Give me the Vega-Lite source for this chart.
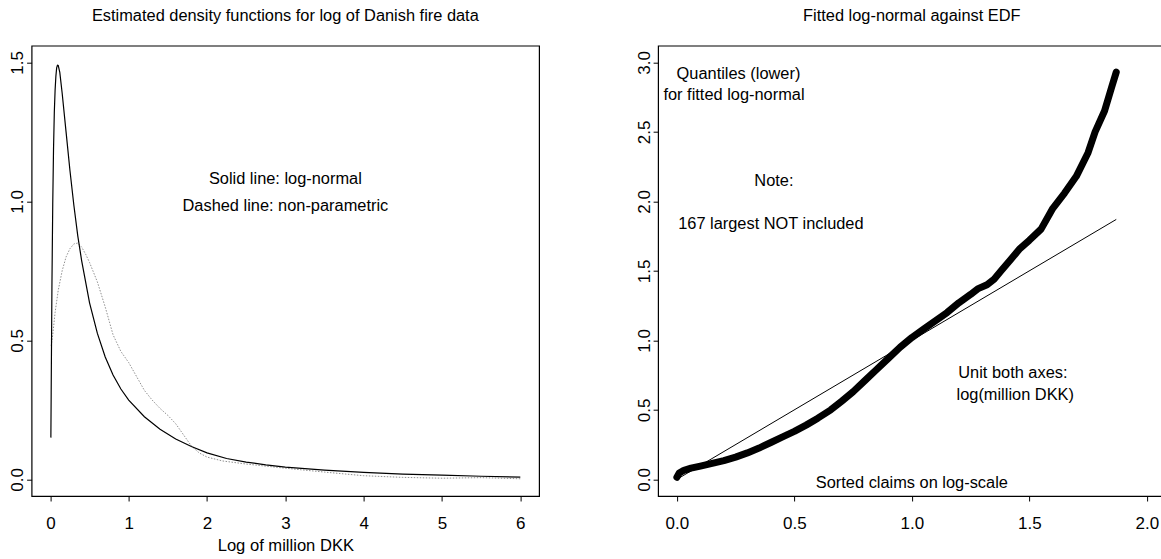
{
  "$schema": "https://vega.github.io/schema/vega-lite/v6.json",
  "autosize": "none",
  "padding": {"left": 31.6, "top": 45.7, "right": 1129.4, "bottom": 513.3},
  "background": "white",
  "bounds": "flush",
  "spacing": 118.5,
  "config": {
    "font": "Liberation Sans",
    "view": {"stroke": "black", "strokeWidth": 1.2},
    "axis": {
      "grid": false, "domain": false, "tickColor": "black", "tickSize": 5, "tickWidth": 1,
      "labelColor": "black", "labelFont": "Liberation Sans", "labelFontSize": 17,
      "titleColor": "black", "titleFont": "Liberation Sans", "titleFontSize": 16.6, "titleFontWeight": "normal"
    },
    "title": {"font": "Liberation Sans", "fontSize": 16.4, "fontWeight": "normal", "color": "black", "anchor": "middle", "frame": "group", "offset": 21}
  },
  "datasets": {
    "solid": [
      {"x": 0.006, "y": 0.15}, {"x": 0.01, "y": 0.31}, {"x": 0.02, "y": 0.71}, {"x": 0.03, "y": 0.99},
      {"x": 0.04, "y": 1.19}, {"x": 0.05, "y": 1.32}, {"x": 0.06, "y": 1.4}, {"x": 0.07, "y": 1.45},
      {"x": 0.08, "y": 1.48}, {"x": 0.09, "y": 1.49}, {"x": 0.1, "y": 1.489}, {"x": 0.12, "y": 1.464},
      {"x": 0.15, "y": 1.39}, {"x": 0.2, "y": 1.25}, {"x": 0.25, "y": 1.11}, {"x": 0.3, "y": 0.985},
      {"x": 0.35, "y": 0.875}, {"x": 0.4, "y": 0.785}, {"x": 0.5, "y": 0.635}, {"x": 0.6, "y": 0.525},
      {"x": 0.7, "y": 0.44}, {"x": 0.8, "y": 0.375}, {"x": 0.9, "y": 0.325}, {"x": 1.0, "y": 0.285},
      {"x": 1.2, "y": 0.225}, {"x": 1.4, "y": 0.18}, {"x": 1.6, "y": 0.145}, {"x": 1.8, "y": 0.118},
      {"x": 2.0, "y": 0.095}, {"x": 2.25, "y": 0.075}, {"x": 2.5, "y": 0.062}, {"x": 2.75, "y": 0.052},
      {"x": 3.0, "y": 0.044}, {"x": 3.5, "y": 0.033}, {"x": 4.0, "y": 0.025}, {"x": 4.5, "y": 0.019},
      {"x": 5.0, "y": 0.015}, {"x": 5.5, "y": 0.011}, {"x": 6.0, "y": 0.008}
    ],
    "dashed": [
      {"x": 0.01, "y": 0.48}, {"x": 0.03, "y": 0.52}, {"x": 0.06, "y": 0.6}, {"x": 0.1, "y": 0.68},
      {"x": 0.15, "y": 0.75}, {"x": 0.2, "y": 0.8}, {"x": 0.25, "y": 0.83}, {"x": 0.3, "y": 0.847},
      {"x": 0.35, "y": 0.85}, {"x": 0.4, "y": 0.835}, {"x": 0.45, "y": 0.81}, {"x": 0.5, "y": 0.78},
      {"x": 0.6, "y": 0.71}, {"x": 0.7, "y": 0.62}, {"x": 0.8, "y": 0.52}, {"x": 0.9, "y": 0.46},
      {"x": 1.0, "y": 0.42}, {"x": 1.1, "y": 0.37}, {"x": 1.2, "y": 0.32}, {"x": 1.3, "y": 0.285},
      {"x": 1.4, "y": 0.255}, {"x": 1.5, "y": 0.23}, {"x": 1.6, "y": 0.2}, {"x": 1.7, "y": 0.16},
      {"x": 1.8, "y": 0.12}, {"x": 1.9, "y": 0.095}, {"x": 2.0, "y": 0.08}, {"x": 2.2, "y": 0.066},
      {"x": 2.5, "y": 0.055}, {"x": 3.0, "y": 0.04}, {"x": 3.5, "y": 0.026}, {"x": 4.0, "y": 0.013},
      {"x": 4.5, "y": 0.007}, {"x": 5.0, "y": 0.004}, {"x": 5.5, "y": 0.006}, {"x": 6.0, "y": 0.002}
    ],
    "ltext": [
      {"x": 3.0, "y": 1.062, "label": "Solid line: log-normal"},
      {"x": 3.0, "y": 0.965, "label": "Dashed line: non-parametric"}
    ],
    "qq": [
      {"x": 0.0, "y": 0.015}, {"x": 0.01, "y": 0.045}, {"x": 0.03, "y": 0.065}, {"x": 0.06, "y": 0.08},
      {"x": 0.1, "y": 0.095}, {"x": 0.15, "y": 0.115}, {"x": 0.2, "y": 0.135}, {"x": 0.25, "y": 0.16},
      {"x": 0.3, "y": 0.19}, {"x": 0.35, "y": 0.225}, {"x": 0.4, "y": 0.265}, {"x": 0.45, "y": 0.305},
      {"x": 0.5, "y": 0.345}, {"x": 0.55, "y": 0.39}, {"x": 0.6, "y": 0.44}, {"x": 0.655, "y": 0.5},
      {"x": 0.7, "y": 0.56}, {"x": 0.75, "y": 0.63}, {"x": 0.8, "y": 0.71}, {"x": 0.85, "y": 0.79},
      {"x": 0.9, "y": 0.87}, {"x": 0.95, "y": 0.95}, {"x": 1.0, "y": 1.02}, {"x": 1.05, "y": 1.08},
      {"x": 1.1, "y": 1.14}, {"x": 1.15, "y": 1.2}, {"x": 1.2, "y": 1.27}, {"x": 1.25, "y": 1.33},
      {"x": 1.28, "y": 1.37}, {"x": 1.32, "y": 1.4}, {"x": 1.35, "y": 1.44}, {"x": 1.38, "y": 1.5},
      {"x": 1.42, "y": 1.58}, {"x": 1.46, "y": 1.66}, {"x": 1.5, "y": 1.72}, {"x": 1.55, "y": 1.8},
      {"x": 1.6, "y": 1.95}, {"x": 1.65, "y": 2.06}, {"x": 1.7, "y": 2.18}, {"x": 1.75, "y": 2.35},
      {"x": 1.78, "y": 2.5}, {"x": 1.82, "y": 2.65}, {"x": 1.85, "y": 2.82}, {"x": 1.87, "y": 2.93}
    ],
    "diag": [{"x": 0.0, "y": 0.0}, {"x": 1.87, "y": 1.87}],
    "rtext": [
      {"x": 0.262, "y": 2.88, "label": "Quantiles (lower)"},
      {"x": 0.243, "y": 2.73, "label": "for fitted log-normal"},
      {"x": 0.413, "y": 2.11, "label": "Note:"},
      {"x": 0.4, "y": 1.8, "label": "167 largest NOT included"},
      {"x": 1.43, "y": 0.73, "label": "Unit both axes:"},
      {"x": 1.44, "y": 0.57, "label": "log(million DKK)"},
      {"x": 1.0, "y": -0.065, "label": "Sorted claims on log-scale"}
    ]
  },
  "hconcat": [
    {
      "width": 507.5,
      "height": 450.3,
      "title": {"text": "Estimated density functions for log of Danish fire data"},
      "layer": [
        {
          "data": {"name": "dashed"},
          "mark": {"type": "line", "color": "#909090", "strokeWidth": 1, "strokeDash": [1.5, 1.5], "clip": true},
          "encoding": {
            "x": {"field": "x", "type": "quantitative", "scale": {"domain": [-0.24, 6.24], "nice": false, "zero": false},
              "axis": {"values": [0, 1, 2, 3, 4, 5, 6], "format": "d", "labelBaseline": "alphabetic", "labelPadding": 27.3, "title": "Log of million DKK", "titleBaseline": "alphabetic", "titleY": 55}},
            "y": {"field": "y", "type": "quantitative", "scale": {"domain": [-0.06, 1.56], "nice": false, "zero": false},
              "axis": {"values": [0, 0.5, 1, 1.5], "format": ".1f", "labelAngle": -90, "labelAlign": "center", "labelBaseline": "alphabetic", "labelPadding": 3.9, "title": null}}
          }
        },
        {
          "data": {"name": "solid"},
          "mark": {"type": "line", "color": "black", "strokeWidth": 1.2, "clip": true},
          "encoding": {
            "x": {"field": "x", "type": "quantitative"},
            "y": {"field": "y", "type": "quantitative"}
          }
        },
        {
          "data": {"name": "ltext"},
          "mark": {"type": "text", "fontSize": 16.4, "baseline": "alphabetic", "align": "center", "color": "black"},
          "encoding": {
            "x": {"field": "x", "type": "quantitative"},
            "y": {"field": "y", "type": "quantitative"},
            "text": {"field": "label"}
          }
        }
      ]
    },
    {
      "width": 507.5,
      "height": 450.3,
      "title": {"text": "Fitted log-normal against EDF"},
      "layer": [
        {
          "data": {"name": "diag"},
          "mark": {"type": "line", "color": "black", "strokeWidth": 1, "clip": true},
          "encoding": {
            "x": {"field": "x", "type": "quantitative", "scale": {"domain": [-0.08, 2.08], "nice": false, "zero": false},
              "axis": {"values": [0, 0.5, 1, 1.5, 2], "format": ".1f", "labelBaseline": "alphabetic", "labelPadding": 27.3, "title": null}},
            "y": {"field": "y", "type": "quantitative", "scale": {"domain": [-0.12, 3.12], "nice": false, "zero": false},
              "axis": {"values": [0, 0.5, 1, 1.5, 2, 2.5, 3], "format": ".1f", "labelAngle": -90, "labelAlign": "center", "labelBaseline": "alphabetic", "labelPadding": 4, "title": null}}
          }
        },
        {
          "data": {"name": "qq"},
          "mark": {"type": "line", "color": "black", "strokeWidth": 7, "strokeCap": "round", "strokeJoin": "round", "clip": true},
          "encoding": {
            "x": {"field": "x", "type": "quantitative"},
            "y": {"field": "y", "type": "quantitative"}
          }
        },
        {
          "data": {"name": "rtext"},
          "mark": {"type": "text", "fontSize": 16.4, "baseline": "alphabetic", "align": "center", "color": "black"},
          "encoding": {
            "x": {"field": "x", "type": "quantitative"},
            "y": {"field": "y", "type": "quantitative"},
            "text": {"field": "label"}
          }
        }
      ]
    }
  ]
}
